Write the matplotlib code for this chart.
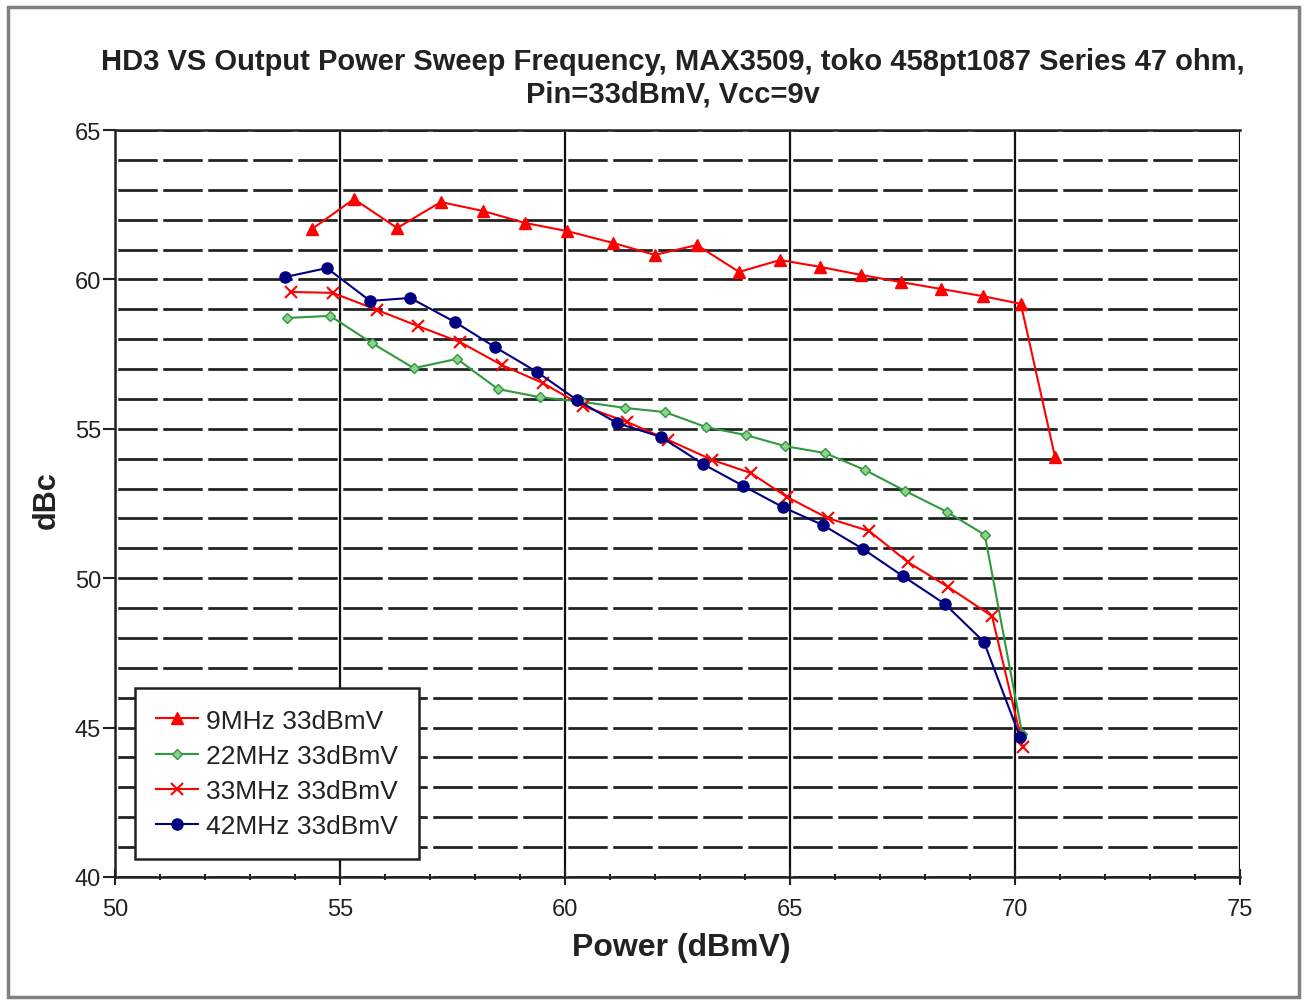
import matplotlib.pyplot as plt
from matplotlib.patches import Rectangle
from matplotlib.ticker import MultipleLocator

plt.rcParams['font.family'] = ['Liberation Sans', 'DejaVu Sans']

# 9MHz 33dBmV
p_9 = [54.38, 55.31, 56.27, 57.24, 58.18, 59.11, 60.04, 61.07, 62.0, 62.93,
       63.87, 64.78, 65.67, 66.58, 67.47, 68.36, 69.29, 70.13, 70.89]
d_9 = [61.69, 62.69, 61.72, 62.59, 62.29, 61.89, 61.62, 61.22, 60.82, 61.15,
       60.25, 60.65, 60.42, 60.15, 59.91, 59.68, 59.44, 59.18, 54.06]

# 22MHz 33dBmV
p_22 = [53.82, 54.78, 55.71, 56.64, 57.6, 58.51, 59.44, 60.4, 61.33, 62.22,
        63.13, 64.02, 64.89, 65.78, 66.67, 67.56, 68.49, 69.33, 70.16]
d_22 = [58.71, 58.78, 57.87, 57.03, 57.34, 56.33, 56.06, 55.9, 55.7, 55.56,
        55.06, 54.79, 54.42, 54.19, 53.62, 52.92, 52.22, 51.45, 44.79]

# 33MHz 33dBmV
p_33 = [53.91, 54.84, 55.82, 56.73, 57.67, 58.6, 59.51, 60.4, 61.38, 62.29,
        63.27, 64.13, 64.93, 65.84, 66.76, 67.62, 68.51, 69.49, 70.18]
d_33 = [59.58, 59.55, 58.98, 58.44, 57.9, 57.13, 56.53, 55.76, 55.23, 54.63,
        53.96, 53.52, 52.72, 52.01, 51.58, 50.54, 49.71, 48.73, 44.35]

# 42MHz 33dBmV
p_42 = [53.78, 54.71, 55.67, 56.56, 57.56, 58.44, 59.38, 60.27, 61.16, 62.13,
        63.07, 63.96, 64.84, 65.73, 66.62, 67.51, 68.44, 69.31, 70.11]
d_42 = [60.08, 60.38, 59.28, 59.38, 58.57, 57.74, 56.9, 55.96, 55.19, 54.73,
        53.82, 53.09, 52.38, 51.78, 50.98, 50.07, 49.14, 47.87, 44.69]

fig = plt.figure(figsize=(13.07, 10.04), dpi=100)
ax = fig.add_axes([0.088, 0.1255, 0.8607, 0.744])

# gray frame round the whole chart
fig.patches.append(Rectangle((0.006, 0.006), 0.988, 0.986, transform=fig.transFigure,
                             fill=False, edgecolor='#808080', linewidth=2.5))

ax.plot(p_9, d_9, color='#ff0000', marker='^', markersize=8, linewidth=1.5,
        label='9MHz 33dBmV', zorder=5)
ax.plot(p_22, d_22, color='#2e9a3e', marker='D', markersize=5, markerfacecolor='#8fd08f',
        linewidth=1.5, label='22MHz 33dBmV', zorder=4)
ax.plot(p_33, d_33, color='#ff0000', marker='x', markersize=8, markeredgewidth=1.5,
        linewidth=1.5, label='33MHz 33dBmV', zorder=5)
ax.plot(p_42, d_42, color='#000080', marker='o', markersize=8, linewidth=1.5,
        label='42MHz 33dBmV', zorder=6)

ax.set_xlim(50, 75)
ax.set_ylim(40, 65)
ax.xaxis.set_major_locator(MultipleLocator(5))
ax.xaxis.set_minor_locator(MultipleLocator(1))
ax.yaxis.set_major_locator(MultipleLocator(5))
ax.yaxis.set_minor_locator(MultipleLocator(1))

ax.grid(True, which='major', axis='x', color='#111111', linewidth=1.6)
ax.grid(True, which='both', axis='y', color='#222222', linewidth=2.0,
        linestyle=(15.2, (14.2, 2.0)))
ax.set_axisbelow(True)

ax.tick_params(axis='both', which='major', labelsize=17, colors='#222222', width=1.5)
ax.tick_params(axis='x', which='major', direction='inout', length=12, pad=9)
ax.tick_params(axis='y', which='major', direction='out', length=9, pad=1)
ax.tick_params(axis='x', which='minor', direction='inout', length=5, width=1.5, colors='#222222')
ax.tick_params(axis='y', which='minor', length=0)

ax.spines['right'].set_visible(False)
ax.spines['top'].set_color('#222222')
ax.spines['top'].set_linewidth(1.8)
for side in ['left', 'bottom']:
    ax.spines[side].set_color('#222222')
    ax.spines[side].set_linewidth(1.8)

ax.set_xlabel('Power (dBmV)', fontsize=23, fontweight='bold', color='#222222')
ax.xaxis.set_label_coords(0.503, -0.074)
ax.set_ylabel('dBc', fontsize=22, fontweight='bold', color='#222222')
ax.yaxis.set_label_coords(-0.047, 0.506)
fig.text(0.515, 0.922, 'HD3 VS Output Power Sweep Frequency, MAX3509, toko 458pt1087 Series 47 ohm,\nPin=33dBmV, Vcc=9v',
         ha='center', va='center', fontsize=21, fontweight='bold', color='#222222',
         linespacing=1.2)

leg = ax.legend(loc='lower left', bbox_to_anchor=(0.0178, 0.024), fontsize=19,
                frameon=True, fancybox=False, edgecolor='#222222', borderpad=0.8,
                handlelength=1.6, handletextpad=0.3, labelspacing=0.42, borderaxespad=0)
leg.get_frame().set_linewidth(1.8)
leg.get_frame().set_facecolor('white')
leg.get_frame().set_alpha(1)
for t in leg.get_texts():
    t.set_color('#222222')

fig.savefig('out.png', dpi=100)
